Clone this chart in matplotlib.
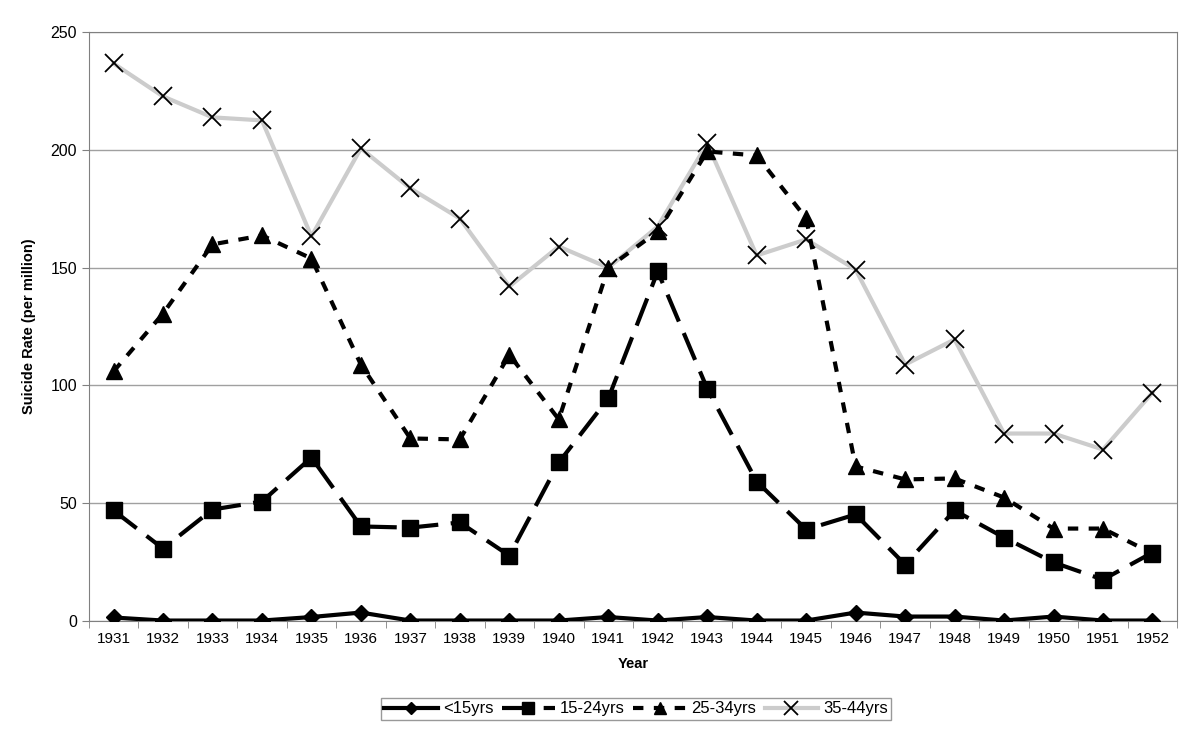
import matplotlib
matplotlib.use("Agg")
import matplotlib.pyplot as plt
import numpy as np

plt.rcParams["font.family"] = ["Liberation Sans", "DejaVu Sans"]

years = [str(y) for y in range(1931, 1953)]

under15 = [1.3, 0, 0, 0, 1.5, 3.4, 0, 0, 0, 0, 1.5, 0, 1.5, 0, 0, 3.4,
           1.7, 1.7, 0, 1.7, 0, 0]
age15_24 = [46.8, 30.6, 47.2, 50.6, 69.3, 40.0, 39.5, 41.7, 27.6, 67.2, 94.4,
            148.4, 98.6, 59.1, 38.7, 45.1, 23.8, 46.8, 35.3, 24.7, 17.4, 28.9]
age25_34 = [105.9, 130.5, 159.9, 163.7, 153.9, 108.8, 77.4, 77.0, 113.0, 85.5,
            150.0, 165.4, 199.4, 197.7, 171.0, 65.5, 60.0, 60.4, 52.3, 39.1,
            39.1, 28.5]
age35_44 = [236.8, 222.8, 213.9, 212.6, 163.3, 200.7, 183.7, 170.9, 142.0,
            159.0, 150.0, 167.5, 202.8, 155.2, 162.0, 149.2, 108.8, 119.5,
            79.5, 79.5, 72.7, 96.9]

x = np.arange(len(years))

fig = plt.figure(figsize=(12, 7.37), dpi=100)
ax = fig.add_axes([0.074, 0.158, 0.907, 0.798])

ax.plot(x, under15, color="black", lw=3, marker="D", ms=8, label="<15yrs",
        zorder=4)
ax.plot(x, age15_24, color="black", lw=3, dashes=(7, 3), marker="s", ms=11,
        label="15-24yrs", zorder=4)
ax.plot(x, age25_34, color="black", lw=3, dashes=(2.5, 2.5), marker="^",
        ms=11, label="25-34yrs", zorder=4)
ax.plot(x, age35_44, color="#cccccc", lw=3, marker="x", ms=13, mew=1.3,
        mec="black", label="35-44yrs", zorder=3)

ax.set_xlim(-0.5, len(years) - 0.5)
ax.set_ylim(0, 250)
ax.set_yticks(range(0, 251, 50))
ax.set_xticks(x)
ax.set_xticklabels(years, fontsize=11)
ax.set_xticks(np.arange(-0.5, len(years), 1), minor=True)
ax.tick_params(axis="x", which="major", length=0, pad=8)
ax.tick_params(axis="x", which="minor", length=5, color="#808080")
ax.tick_params(axis="y", length=5, color="#808080", labelsize=11.5)
ax.yaxis.grid(True, color="#a0a0a0", lw=1)
ax.set_axisbelow(True)
for s in ax.spines.values():
    s.set_color("#808080")

ax.set_xlabel("Year", fontsize=10.5, fontweight="bold", labelpad=8)
ax.set_ylabel("Suicide Rate (per million)", fontsize=10.5, fontweight="bold",
              labelpad=10)

leg = fig.legend(loc="center", bbox_to_anchor=(0.53, 0.038), ncol=4,
                 fontsize=12, frameon=True, fancybox=False, edgecolor="#808080",
                 handlelength=3.2, handletextpad=0.3, columnspacing=0.5,
                 borderpad=0.2, markerscale=0.8)
leg.get_frame().set_linewidth(1)

fig.savefig("out.png", dpi=100)
